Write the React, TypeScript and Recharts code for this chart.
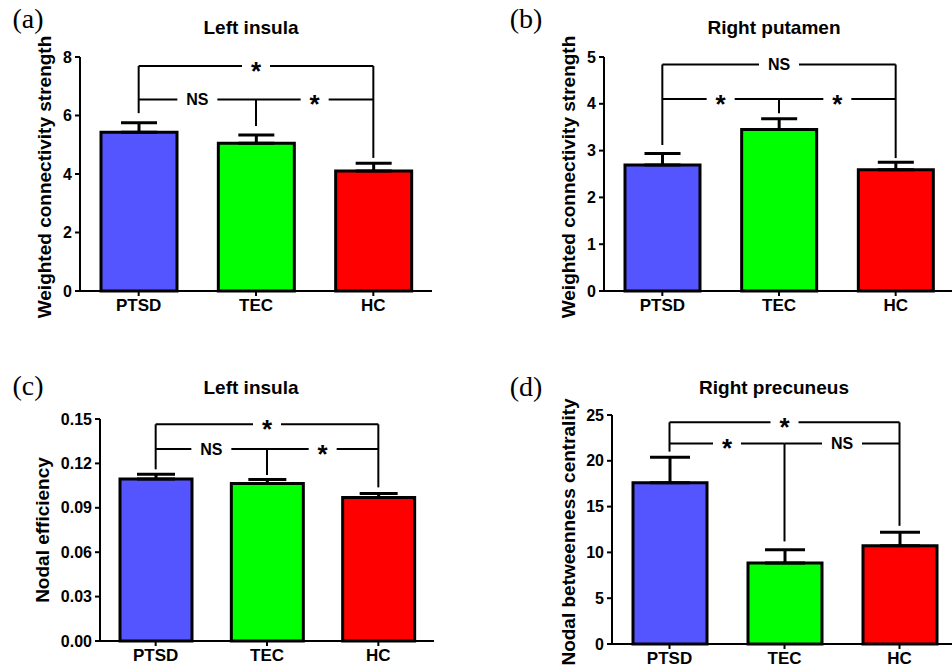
import React from 'react';
import {
  BarChart,
  Bar,
  Cell,
  XAxis,
  YAxis,
  ErrorBar,
  ReferenceLine,
} from 'recharts';

const groups = ['PTSD', 'TEC', 'HC'];
const groupColors = ['#5555ff', '#00ff00', '#ff0000'];

// (a) left insula, weighted connectivity strength
const insulaStrength = [5.43, 5.05, 4.1];
const insulaStrengthSem = [0.32, 0.28, 0.27];
const insulaStrengthTicks = [0, 2, 4, 6, 8];

// (b) right putamen, weighted connectivity strength
const putamenStrength = [2.69, 3.45, 2.59];
const putamenStrengthSem = [0.25, 0.23, 0.16];
const putamenStrengthTicks = [0, 1, 2, 3, 4, 5];

// (c) left insula, nodal efficiency
const insulaEfficiency = [0.1094, 0.1065, 0.097];
const insulaEfficiencySem = [0.0032, 0.0027, 0.0027];
const insulaEfficiencyTicks = [0, 0.03, 0.06, 0.09, 0.12, 0.15];

// (d) right precuneus, nodal betweenness centrality
const precuneusBetweenness = [17.6, 8.84, 10.73];
const precuneusBetweennessSem = [2.8, 1.46, 1.47];
const precuneusBetweennessTicks = [0, 5, 10, 15, 20, 25];

// significance brackets: horizontal spans and vertical legs
const insulaStrengthSpans = [
  { from: 'PTSD', to: 'HC', y: 7.69, label: '*' },
  { from: 'PTSD', to: 'TEC', y: 6.55, label: 'NS' },
  { from: 'TEC', to: 'HC', y: 6.55, label: '*' },
];
const insulaStrengthLegs = [
  { at: 'PTSD', top: 7.69, bottom: 6.08 },
  { at: 'TEC', top: 6.55, bottom: 5.64 },
  { at: 'HC', top: 7.69, bottom: 4.55 },
];

const putamenStrengthSpans = [
  { from: 'PTSD', to: 'HC', y: 4.84, label: 'NS' },
  { from: 'PTSD', to: 'TEC', y: 4.1, label: '*' },
  { from: 'TEC', to: 'HC', y: 4.1, label: '*' },
];
const putamenStrengthLegs = [
  { at: 'PTSD', top: 4.84, bottom: 3.12 },
  { at: 'TEC', top: 4.1, bottom: 3.8 },
  { at: 'HC', top: 4.84, bottom: 2.84 },
];

const insulaEfficiencySpans = [
  { from: 'PTSD', to: 'HC', y: 0.1464, label: '*' },
  { from: 'PTSD', to: 'TEC', y: 0.1297, label: 'NS' },
  { from: 'TEC', to: 'HC', y: 0.1297, label: '*' },
];
const insulaEfficiencyLegs = [
  { at: 'PTSD', top: 0.1464, bottom: 0.116 },
  { at: 'TEC', top: 0.1297, bottom: 0.1121 },
  { at: 'HC', top: 0.1464, bottom: 0.1038 },
];

const precuneusBetweennessSpans = [
  { from: 'PTSD', to: 'HC', y: 24.2, label: '*' },
  { from: 'PTSD', to: 'TEC', y: 21.9, label: '*' },
  { from: 'TEC', to: 'HC', y: 21.9, label: 'NS' },
];
const precuneusBetweennessLegs = [
  { at: 'PTSD', top: 24.2, bottom: 21.0 },
  { at: 'TEC', top: 21.9, bottom: 11.2 },
  { at: 'HC', top: 24.2, bottom: 12.9 },
];

const SANS = '"Liberation Sans", Arial, sans-serif';
const SERIF = '"Liberation Serif", "Times New Roman", serif';

function bracketLabel(text: string) {
  return (props: any) => {
    const vb = props.viewBox || {};
    const cx = vb.x + (vb.width || 0) / 2;
    const cy = vb.y + (vb.height || 0) / 2;
    const star = text === '*';
    const w = star ? 28 : 40;
    return (
      <g>
        <rect x={cx - w / 2} y={cy - 4} width={w} height={8} fill="#fff" />
        <text
          x={cx}
          y={star ? cy + 14 : cy + 6}
          textAnchor="middle"
          fontFamily={SANS}
          fontWeight={700}
          fontSize={star ? 26 : 16}
          fill="#000"
        >
          {text}
        </text>
      </g>
    );
  };
}

interface PanelProps {
  letter: string;
  title: string;
  yLabel: string;
  values: number[];
  sems: number[];
  ticks: number[];
  spans: { from: string; to: string; y: number; label: string }[];
  legs: { at: string; top: number; bottom: number }[];
  box: { left: number; top: number; width: number; height: number };
  margin: { top: number; right: number; bottom: number; left: number };
  yWidth: number;
  xHeight: number;
  barSize: number;
  capWidth: number;
  fmt?: (v: number) => string;
  letterAt: [number, number];
  titleAt: [number, number];
  yLabelAt: [number, number];
}

function Panel(p: PanelProps) {
  const data = groups.map((g, i) => ({
    group: g,
    value: p.values[i],
    err: [0, p.sems[i]],
  }));
  const tickStyle = { fill: '#000', fontSize: 16, fontWeight: 700, fontFamily: SANS };
  return (
    <>
      <div
        style={{
          position: 'absolute',
          left: p.box.left,
          top: p.box.top,
          width: p.box.width,
          height: p.box.height,
        }}
      >
        <BarChart width={p.box.width} height={p.box.height} data={data} margin={p.margin}>
          <XAxis
            dataKey="group"
            height={p.xHeight}
            axisLine={{ stroke: '#000', strokeWidth: 2 }}
            tickLine={{ stroke: '#000', strokeWidth: 2 }}
            tickSize={5}
            tickMargin={3}
            tick={{ ...tickStyle, fontSize: 17 }}
          />
          <YAxis
            width={p.yWidth}
            domain={[p.ticks[0], p.ticks[p.ticks.length - 1]]}
            ticks={p.ticks}
            interval={0}
            axisLine={{ stroke: '#000', strokeWidth: 2 }}
            tickLine={{ stroke: '#000', strokeWidth: 2 }}
            tickSize={5}
            tickMargin={3}
            tick={tickStyle}
            tickFormatter={p.fmt}
          />
          <Bar
            dataKey="value"
            barSize={p.barSize}
            stroke="#000"
            strokeWidth={3}
            isAnimationActive={false}
          >
            {data.map((d, i) => (
              <Cell key={d.group} fill={groupColors[i]} />
            ))}
            <ErrorBar
              dataKey="err"
              direction="y"
              width={p.capWidth}
              stroke="#000"
              strokeWidth={3}
              isAnimationActive={false}
            />
          </Bar>
          {p.legs.map((l, i) => (
            <ReferenceLine
              key={'leg' + i}
              segment={[
                { x: l.at, y: l.top },
                { x: l.at, y: l.bottom },
              ]}
              stroke="#000"
              strokeWidth={2}
              ifOverflow="visible"
            />
          ))}
          {p.spans.map((s, i) => (
            <ReferenceLine
              key={'span' + i}
              segment={[
                { x: s.from, y: s.y },
                { x: s.to, y: s.y },
              ]}
              stroke="#000"
              strokeWidth={2}
              ifOverflow="visible"
              label={bracketLabel(s.label)}
            />
          ))}
        </BarChart>
      </div>
      <div
        style={{
          position: 'absolute',
          left: p.letterAt[0],
          top: p.letterAt[1],
          transform: 'translate(-50%, -50%)',
          fontFamily: SERIF,
          fontSize: 28,
          whiteSpace: 'nowrap',
        }}
      >
        {p.letter}
      </div>
      <div
        style={{
          position: 'absolute',
          left: p.titleAt[0],
          top: p.titleAt[1],
          transform: 'translate(-50%, -50%)',
          fontFamily: SANS,
          fontWeight: 700,
          fontSize: 19,
          whiteSpace: 'nowrap',
        }}
      >
        {p.title}
      </div>
      <div
        style={{
          position: 'absolute',
          left: p.yLabelAt[0],
          top: p.yLabelAt[1],
          transform: 'translate(-50%, -50%) rotate(-90deg)',
          fontFamily: SANS,
          fontWeight: 700,
          fontSize: 19,
          whiteSpace: 'nowrap',
        }}
      >
        {p.yLabel}
      </div>
    </>
  );
}

export default function App() {
  return (
    <div
      style={{
        position: 'absolute',
        left: 0,
        top: 0,
        width: 952,
        height: 668,
        overflow: 'hidden',
        background: '#fff',
      }}
    >
      <Panel
        letter="(a)"
        title="Left insula"
        yLabel="Weighted connectivity strength"
        values={insulaStrength}
        sems={insulaStrengthSem}
        ticks={insulaStrengthTicks}
        spans={insulaStrengthSpans}
        legs={insulaStrengthLegs}
        box={{ left: 0, top: 0, width: 476, height: 330 }}
        margin={{ top: 57, right: 44, bottom: 9, left: 40 }}
        yWidth={40}
        xHeight={30}
        barSize={76}
        capWidth={18}
        letterAt={[28, 19]}
        titleAt={[251, 28]}
        yLabelAt={[45, 177]}
      />
      <Panel
        letter="(b)"
        title="Right putamen"
        yLabel="Weighted connectivity strength"
        values={putamenStrength}
        sems={putamenStrengthSem}
        ticks={putamenStrengthTicks}
        spans={putamenStrengthSpans}
        legs={putamenStrengthLegs}
        box={{ left: 476, top: 0, width: 480, height: 330 }}
        margin={{ top: 57, right: 2, bottom: 9, left: 88 }}
        yWidth={40}
        xHeight={30}
        barSize={75}
        capWidth={18}
        letterAt={[526, 19]}
        titleAt={[774, 28]}
        yLabelAt={[569, 177]}
      />
      <Panel
        letter="(c)"
        title="Left insula"
        yLabel="Nodal efficiency"
        values={insulaEfficiency}
        sems={insulaEfficiencySem}
        ticks={insulaEfficiencyTicks}
        spans={insulaEfficiencySpans}
        legs={insulaEfficiencyLegs}
        box={{ left: 0, top: 330, width: 476, height: 338 }}
        margin={{ top: 89, right: 42, bottom: 2, left: 50 }}
        yWidth={50}
        xHeight={25}
        barSize={72}
        capWidth={19}
        fmt={(v: number) => v.toFixed(2)}
        letterAt={[28, 386]}
        titleAt={[251, 388]}
        yLabelAt={[43, 530]}
      />
      <Panel
        letter="(d)"
        title="Right precuneus"
        yLabel="Nodal betweenness centrality"
        values={precuneusBetweenness}
        sems={precuneusBetweennessSem}
        ticks={precuneusBetweennessTicks}
        spans={precuneusBetweennessSpans}
        legs={precuneusBetweennessLegs}
        box={{ left: 476, top: 330, width: 485, height: 338 }}
        margin={{ top: 85, right: 4, bottom: 2, left: 96 }}
        yWidth={40}
        xHeight={22}
        barSize={74}
        capWidth={20}
        letterAt={[526, 387]}
        titleAt={[774, 388]}
        yLabelAt={[569, 532]}
      />
    </div>
  );
}
